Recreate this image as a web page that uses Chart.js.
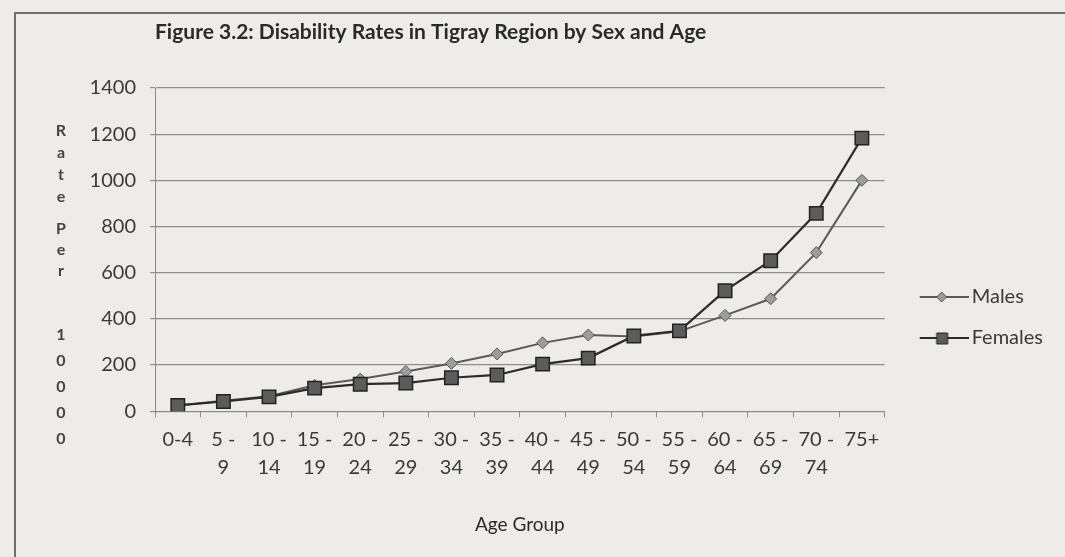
<!DOCTYPE html>
<html>
<head>
<meta charset="utf-8">
<script src="https://cdn.jsdelivr.net/npm/chart.js@4.4.0/dist/chart.umd.min.js"></script>
<style>
    html { overflow: hidden; }
    body { margin: 0; padding: 0; background: #edece8; }
    .rule { position: absolute; background: #6e6e6e; }
    #rule-top { left: 14px; top: 12px; width: 1051px; height: 2px; }
    #rule-left { left: 14px; top: 12px; width: 2px; height: 545px; }
    #wrap { position: absolute; left: 0; top: 0; width: 1065px; height: 557px; }
</style>
</head>
<body>
<div class="rule" id="rule-top"></div>
<div class="rule" id="rule-left"></div>
<div id="wrap"><canvas id="rates-chart"></canvas></div>
<script>
// Figure 3.2 data (rate per 10000)
const ageGroups = [
    ['0-4'], ['5 -', '9'], ['10 -', '14'], ['15 -', '19'], ['20 -', '24'],
    ['25 -', '29'], ['30 -', '34'], ['35 -', '39'], ['40 -', '44'], ['45 -', '49'],
    ['50 -', '54'], ['55 -', '59'], ['60 -', '64'], ['65 -', '69'], ['70 -', '74'], ['75+']
];
const males   = [25, 45, 65, 112, 139, 172, 207, 248, 296, 330, 324, 346, 415, 487, 687, 1000];
const females = [25, 42, 62, 100, 117, 122, 145, 157, 204, 230, 326, 348, 522, 652, 857, 1183];
const yTicks = [0, 200, 400, 600, 800, 1000, 1200, 1400];

const chartTitle = 'Figure 3.2: Disability Rates in Tigray Region by Sex and Age';
const yAxisTitle = ['Rate', 'Per', '10000'];
const xAxisTitle = 'Age Group';

const FONT = 'Lato, "Open Sans", sans-serif';
const INK = '#3a3a3a';

// legend icon: a short line with the series marker on it
function makeLegendIcon(style, lineColor, fill, stroke) {
    const c = document.createElement('canvas');
    c.width = 70;
    c.height = 18;
    const g = c.getContext('2d');
    g.strokeStyle = lineColor;
    g.lineWidth = 2;
    g.beginPath();
    g.moveTo(21, 9);
    g.lineTo(70, 9);
    g.stroke();
    g.fillStyle = fill;
    g.strokeStyle = stroke;
    g.lineWidth = 1;
    g.beginPath();
    if (style === 'diamond') {
        g.moveTo(43, 4); g.lineTo(48, 9); g.lineTo(43, 14); g.lineTo(38, 9);
    } else {
        g.rect(38, 4, 11, 11);
    }
    g.closePath();
    g.fill();
    g.stroke();
    return c;
}

const legendIcons = [
    makeLegendIcon('diamond', '#5a5a5a', '#9c9c9c', '#555'),
    makeLegendIcon('square', '#2b2b2b', '#5c5c5c', '#222')
];

// title and the stacked y-axis caption, drawn the way the scan shows them
const pageText = {
    id: 'pageText',
    afterDraw(chart) {
        const ctx = chart.ctx;
        ctx.save();
        ctx.fillStyle = '#2a2a2a';
        ctx.font = 'bold 21px ' + FONT;
        ctx.textAlign = 'left';
        ctx.textBaseline = 'middle';
        ctx.fillText(chartTitle, 155, 32);

        ctx.font = 'bold 16px ' + FONT;
        ctx.fillStyle = '#444';
        ctx.textAlign = 'center';
        const starts = [131, 229, 335];
        const steps = [22, 21, 26];
        yAxisTitle.forEach((word, w) => {
            [...word].forEach((ch, i) => {
                ctx.fillText(ch, 61, starts[w] + i * steps[w]);
            });
        });
        ctx.restore();
    }
};

const ctx = document.getElementById('rates-chart').getContext('2d');
new Chart(ctx, {
    type: 'line',
    data: {
        labels: ageGroups,
        datasets: [
            {
                label: 'Males',
                data: males,
                borderColor: '#5a5a5a',
                borderWidth: 2,
                pointStyle: 'rectRot',
                pointRadius: 6,
                pointBackgroundColor: '#9c9c9c',
                pointBorderColor: '#555',
                pointBorderWidth: 1,
                tension: 0,
                order: 1
            },
            {
                label: 'Females',
                data: females,
                borderColor: '#2b2b2b',
                borderWidth: 2.2,
                pointStyle: 'rect',
                pointRadius: 9.5,
                pointBackgroundColor: '#5c5c5c',
                pointBorderColor: '#222',
                pointBorderWidth: 1.5,
                tension: 0,
                order: 0
            }
        ]
    },
    options: {
        responsive: true,
        maintainAspectRatio: false,
        animation: false,
        layout: { padding: { top: 88, bottom: 10, left: 0, right: 12 } },
        scales: {
            x: {
                offset: true,
                border: { display: true, color: '#8a8a8a', width: 1 },
                grid: {
                    offset: true,
                    drawOnChartArea: false,
                    drawTicks: true,
                    tickLength: 6,
                    color: '#8a8a8a'
                },
                ticks: {
                    color: INK,
                    font: { family: FONT, size: 20, lineHeight: 1.4 },
                    padding: 8,
                    maxRotation: 0,
                    autoSkip: false
                },
                title: {
                    display: true,
                    text: xAxisTitle,
                    color: '#2a2a2a',
                    font: { family: FONT, size: 19, lineHeight: 1.2 },
                    padding: { top: 24, bottom: 11 }
                }
            },
            y: {
                min: 0,
                max: 1400,
                afterFit(scale) { scale.width = 155; },
                afterBuildTicks(scale) { scale.ticks = yTicks.map(v => ({ value: v })); },
                border: { display: true, color: '#8a8a8a', width: 1 },
                grid: {
                    color: '#8e8e8e',
                    lineWidth: 1.2,
                    tickLength: 5
                },
                ticks: {
                    color: INK,
                    padding: 14,
                    font: { family: FONT, size: 20 },
                    callback: value => String(value)
                }
            }
        },
        plugins: {
            title: { display: false },
            tooltip: { enabled: false },
            legend: {
                display: true,
                position: 'right',
                labels: {
                    usePointStyle: true,
                    pointStyleWidth: 56,
                    padding: 21,
                    color: INK,
                    font: { family: FONT, size: 20 },
                    generateLabels(chart) {
                        const items = Chart.defaults.plugins.legend.labels.generateLabels(chart);
                        items.sort((a, b) => a.datasetIndex - b.datasetIndex);
                        items.forEach(item => {
                            item.pointStyle = legendIcons[item.datasetIndex];
                        });
                        return items;
                    }
                }
            }
        }
    },
    plugins: [pageText]
});
</script>
</body>
</html>
